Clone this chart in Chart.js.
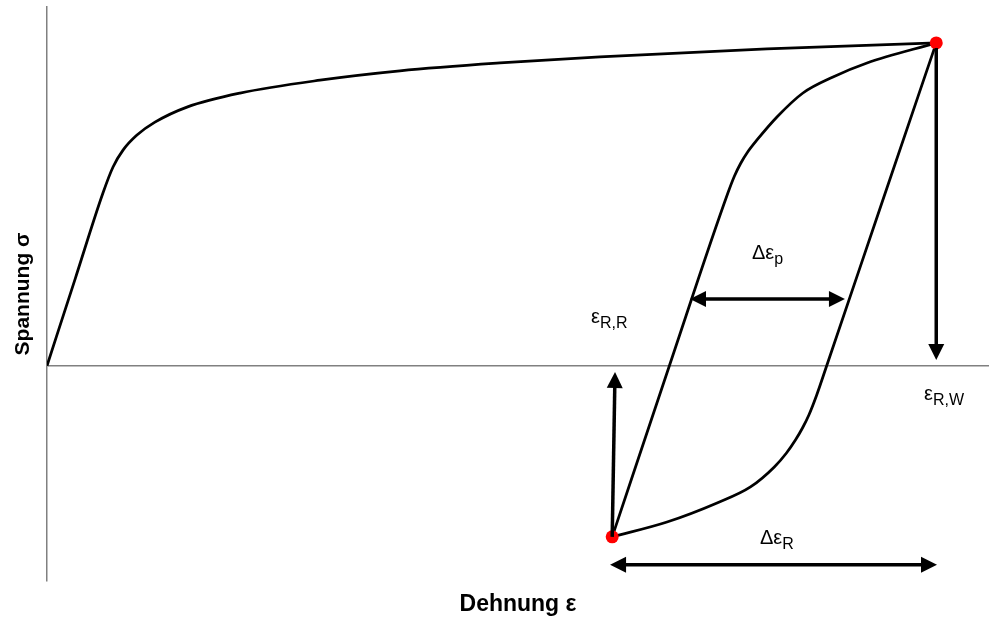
<!DOCTYPE html>
<html>
<head>
<meta charset="utf-8">
<script src="https://cdn.jsdelivr.net/npm/chart.js@4.4.0/dist/chart.umd.min.js"></script>
<style>
  html, body { margin: 0; padding: 0; background: #fff; }
</style>
</head>
<body>
<canvas id="chart" width="989" height="623"></canvas>
<script>
// Erstbelastungskurve (monotonic loading)
const loadX = [0, 3.0, 5.94, 7.01, 8.07, 9.55, 11.46, 14.86, 20.49, 28.98, 37.47, 48.09, 58.7, 76.43, 94.4];
const loadY = [0, 24.3, 48.15, 55.4, 60.1, 64.3, 67.9, 72.1, 76.0, 79.6, 82.2, 84.4, 86.1, 88.3, 90];

// Hysterese, oberer Ast (vom Umkehrpunkt unten zur Spitze)
const upperX = [60, 66.07, 72.29, 72.98, 73.63, 74.38, 75.37, 77.49, 80.25, 83.44, 87.05, 94.4];
const upperY = [-47.7, 0, 48.2, 52.89, 56.38, 59.58, 62.93, 69.34, 76.03, 80.49, 84.39, 90];

// Hysterese, unterer Ast
const lowerX = [60, 65.82, 71.13, 74.68, 77.21, 78.5, 79.45, 80.2, 80.88, 81.71, 82.77, 88.58, 94.4];
const lowerY = [-47.7, -43.56, -38.25, -33.79, -28.22, -24.32, -20.7, -17.35, -13.73, -8.15, 0, 45, 90];

// Umkehrpunkte
const turnX = [94.4, 60];
const turnY = [90, -47.7];

// Pfeile
const arrowX1 = [94.4, 60.0, 68.26, 59.77];
const arrowY1 = [88.6, -47.7, 18.6, -55.5];
const arrowX2 = [94.4, 60.3, 84.71, 94.48];
const arrowY2 = [1.6, -1.74, 18.6, -55.5];
const arrowBoth = [false, false, true, true];

// Beschriftungen
const labelMain = ['\u03b5', '\u0394\u03b5', '\u03b5', '\u0394\u03b5'];
const labelSub = ['R,R', 'p', 'R,W', 'R'];
const labelX = [57.75, 74.84, 93.1, 75.69];
const labelY = [11.92, 29.76, -9.55, -49.7];

const FONT = "'Liberation Sans', Arial, sans-serif";

function pts(xs, ys) {
    return xs.map((x, i) => ({ x: x, y: ys[i] }));
}

function curve(xs, ys) {
    return {
        type: 'line',
        data: pts(xs, ys),
        borderColor: '#000',
        borderWidth: 2.75,
        pointRadius: 0,
        fill: false,
        cubicInterpolationMode: 'monotone',
        order: 1
    };
}

const arrowPlugin = {
    id: 'arrows',
    afterDatasetsDraw(chart) {
        const ctx = chart.ctx;
        const xs = chart.scales.x, ys = chart.scales.y;
        const headLen = 16, headHalf = 8;
        ctx.save();
        ctx.strokeStyle = '#000';
        ctx.fillStyle = '#000';
        ctx.lineWidth = 3.5;
        for (let i = 0; i < arrowX1.length; i++) {
            const x1 = xs.getPixelForValue(arrowX1[i]), y1 = ys.getPixelForValue(arrowY1[i]);
            const x2 = xs.getPixelForValue(arrowX2[i]), y2 = ys.getPixelForValue(arrowY2[i]);
            const len = Math.hypot(x2 - x1, y2 - y1);
            const ux = (x2 - x1) / len, uy = (y2 - y1) / len;
            const sx = arrowBoth[i] ? x1 + ux * headLen * 0.9 : x1;
            const sy = arrowBoth[i] ? y1 + uy * headLen * 0.9 : y1;
            ctx.beginPath();
            ctx.moveTo(sx, sy);
            ctx.lineTo(x2 - ux * headLen * 0.9, y2 - uy * headLen * 0.9);
            ctx.stroke();
            const heads = arrowBoth[i] ? [[x2, y2, ux, uy], [x1, y1, -ux, -uy]] : [[x2, y2, ux, uy]];
            heads.forEach(h => {
                const [tx, ty, dx, dy] = h;
                const bx = tx - dx * headLen, by = ty - dy * headLen;
                ctx.beginPath();
                ctx.moveTo(tx, ty);
                ctx.lineTo(bx - dy * headHalf, by + dx * headHalf);
                ctx.lineTo(bx + dy * headHalf, by - dx * headHalf);
                ctx.closePath();
                ctx.fill();
            });
        }
        ctx.restore();
    }
};

const labelPlugin = {
    id: 'labels',
    afterDatasetsDraw(chart) {
        const ctx = chart.ctx;
        const xs = chart.scales.x, ys = chart.scales.y;
        ctx.save();
        ctx.fillStyle = '#000';
        ctx.textBaseline = 'alphabetic';
        ctx.textAlign = 'left';
        for (let i = 0; i < labelMain.length; i++) {
            const px = xs.getPixelForValue(labelX[i]);
            const py = ys.getPixelForValue(labelY[i]);
            ctx.font = '20px ' + FONT;
            ctx.fillText(labelMain[i], px, py);
            const w = ctx.measureText(labelMain[i]).width;
            ctx.font = '16px ' + FONT;
            ctx.fillText(labelSub[i], px + w, py + 5);
        }
        ctx.restore();
    }
};

new Chart(document.getElementById('chart'), {
    type: 'scatter',
    data: {
        datasets: [
            {
                data: pts(turnX, turnY),
                backgroundColor: '#ff0000',
                borderWidth: 0,
                pointRadius: 6.5,
                showLine: false,
                order: 0
            },
            curve(loadX, loadY),
            curve(upperX, upperY),
            curve(lowerX, lowerY)
        ]
    },
    options: {
        responsive: false,
        animation: false,
        devicePixelRatio: 1,
        layout: { autoPadding: false, padding: { top: 7, right: 0, left: 0, bottom: 0 } },
        plugins: {
            legend: { display: false },
            tooltip: { enabled: false }
        },
        scales: {
            x: {
                type: 'linear',
                min: 0,
                max: 100,
                ticks: { display: false },
                grid: { display: false },
                border: { display: false },
                title: {
                    display: true,
                    text: 'Dehnung \u03b5',
                    color: '#000',
                    font: { family: FONT, size: 23, weight: 'bold' },
                    padding: { top: 0, bottom: 5 }
                },
                afterFit(scale) { scale.height = 42; }
            },
            y: {
                type: 'linear',
                min: -60,
                max: 100,
                ticks: { display: false, stepSize: 20 },
                grid: {
                    drawTicks: false,
                    lineWidth: 1.5,
                    color: c => c.tick && c.tick.value === 0 ? '#808080' : 'rgba(0,0,0,0)'
                },
                border: { display: true, color: '#808080', width: 1.5 },
                title: {
                    display: true,
                    text: 'Spannung \u03c3',
                    color: '#000',
                    font: { family: FONT, size: 21, weight: 'bold' },
                    padding: { top: 11, bottom: 0 }
                },
                afterFit(scale) { scale.width = 47; }
            }
        }
    },
    plugins: [arrowPlugin, labelPlugin]
});
</script>
</body>
</html>
